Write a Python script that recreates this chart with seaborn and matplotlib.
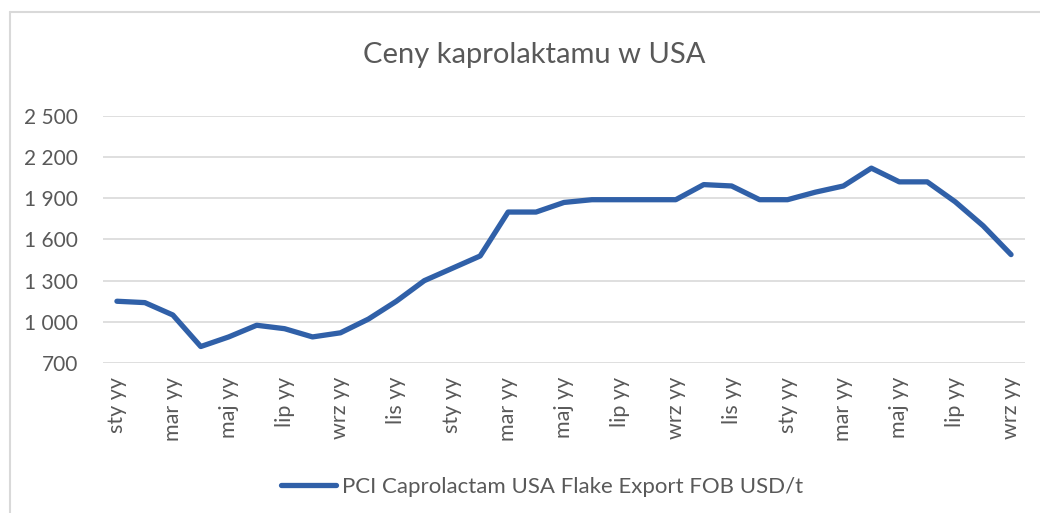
import pandas as pd
import numpy as np
import matplotlib.pyplot as plt
import seaborn as sns
from matplotlib.lines import Line2D

#Monthly prices, USD/t, 33 months starting in January
months = ["sty", "lut", "mar", "kwi", "maj", "cze", "lip", "sie", "wrz", "paź", "lis", "gru"]
prices = [1150, 1140, 1050, 820, 890, 975, 950, 890, 920, 1020,
          1150, 1300, 1390, 1480, 1800, 1800, 1870, 1890, 1890, 1890,
          1890, 2000, 1990, 1890, 1890, 1945, 1990, 2120, 2020, 2020,
          1875, 1700, 1490]
month_labels = [months[i % 12] + " yy" for i in range(len(prices))]
y_ticks = [700, 1000, 1300, 1600, 1900, 2200, 2500]
series_name = "PCI Caprolactam USA Flake Export FOB USD/t"

df = pd.DataFrame({"idx": np.arange(len(prices)), "price": prices})

sns.set_theme(style="white")
plt.rcParams['font.family'] = ['Lato', 'DejaVu Sans']
gray = "#595959"

fig = plt.figure(figsize=(10.4, 5.13), dpi=100)
ax = fig.add_axes([0.099, 0.2924, 0.8866, 0.4815])

sns.lineplot(data=df, x="idx", y="price", ax=ax, color="#3060A8", linewidth=3.8,
             label=series_name, legend=False)

ax.set_xlim(-0.5, len(prices) - 0.5)
ax.set_ylim(700, 2500)
ax.set_yticks(y_ticks)
ax.set_yticklabels([f"{v:,}".replace(",", " ") for v in y_ticks], color=gray, fontsize=15)
ax.set_xticks(df["idx"][::2])
ax.set_xticklabels(month_labels[::2], rotation=90, color=gray, fontsize=15.5)
ax.tick_params(axis="x", length=0, pad=10)
ax.tick_params(axis="y", length=0, pad=18)
ax.yaxis.grid(True, color="#d9d9d9", linewidth=1.2)
ax.set_axisbelow(True)
for s in ax.spines.values():
    s.set_visible(False)
ax.set_xlabel("")
ax.set_ylabel("")

fig.suptitle("Ceny kaprolaktamu w USA", x=0.514, y=0.893, va="center", fontsize=21, color=gray)

handles, labels = ax.get_legend_handles_labels()
fig.legend(handles, labels, loc="center", bbox_to_anchor=(0.521, 0.051), frameon=False,
           fontsize=16, labelcolor=gray, handlelength=2.5, handletextpad=0.25)

#chart area border (only top and left edges are in view)
fig.add_artist(Line2D([0.0096, 0.0096], [0, 0.977], color="#d9d9d9", linewidth=1.5))
fig.add_artist(Line2D([0.0096, 1], [0.977, 0.977], color="#d9d9d9", linewidth=1.5))

fig.savefig("out.png", dpi=100)
